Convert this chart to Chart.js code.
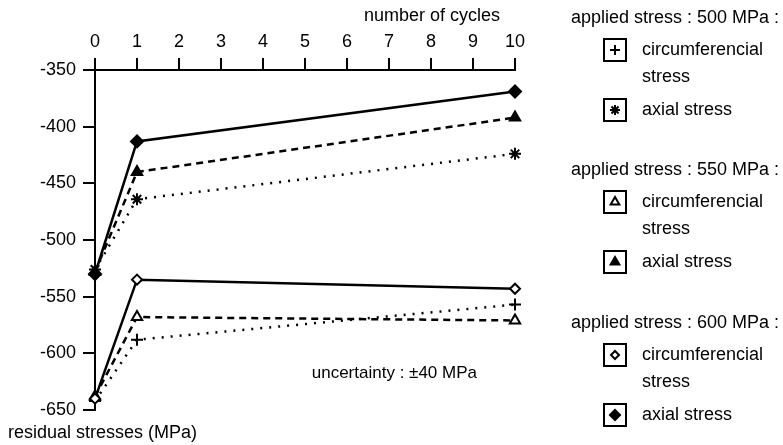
<!DOCTYPE html>
<html>
<head>
<meta charset="utf-8">
<script src="https://cdn.jsdelivr.net/npm/chart.js@4/dist/chart.umd.min.js"></script>
<style>
  body { margin: 0; background: #fff; }
  #wrap { width: 783px; height: 445px; position: relative; }
</style>
</head>
<body>
<div id="wrap"><canvas id="myChart"></canvas></div>
<script>
// number of cycles at which stresses were measured
const cycles = [0, 1, 10];

// residual stresses (MPa)
const axial600 = [-530, -413, -369];
const axial550 = [-528, -440, -392];
const axial500 = [-526, -464, -424];
const circ600 = [-640, -535, -543];
const circ550 = [-638, -568, -571];
const circ500 = [-642, -588, -557];

const xTicks = [0, 1, 2, 3, 4, 5, 6, 7, 8, 9, 10];
const yTicks = [-350, -400, -450, -500, -550, -600, -650];

const xTitle = 'number of cycles';
const yTitle = 'residual stresses (MPa)';
const note = 'uncertainty : \u00b140 MPa';
const groupTitles = ['applied stress : 500 MPa :', 'applied stress : 550 MPa :', 'applied stress : 600 MPa :'];
const circLabel = ['circumferencial', 'stress'];
const axialLabel = 'axial stress';

const FONT = "'Liberation Sans', Arial, Helvetica, sans-serif";

const toPoints = (vals) => vals.map((v, i) => ({ x: cycles[i], y: v }));

const SOLID = [];
const DASHED = [7, 5];
const DOTTED = [2, 7];

// marker style per series (legend reuses these)
const markers = {
  circ500: { pointStyle: 'cross', radius: 6, fill: '#000' },
  axial500: { pointStyle: 'star', radius: 6, fill: '#000' },
  circ550: { pointStyle: 'triangle', radius: 6, fill: '#fff' },
  axial550: { pointStyle: 'triangle', radius: 6, fill: '#000' },
  circ600: { pointStyle: 'rectRot', radius: 5, fill: '#fff' },
  axial600: { pointStyle: 'rectRot', radius: 6, fill: '#000' }
};

const makeSet = (label, vals, dash, m) => ({
  label: label,
  data: toPoints(vals),
  borderColor: '#000',
  borderWidth: 2.5,
  borderDash: dash,
  pointStyle: m.pointStyle,
  pointRadius: m.radius,
  pointBackgroundColor: m.fill,
  pointBorderColor: '#000',
  pointBorderWidth: 2,
  fill: false,
  tension: 0,
  clip: false
});

// draws the titles, the note and the legend boxes on the right
const extras = {
  id: 'extras',
  afterDraw(chart) {
    const ctx = chart.ctx;
    ctx.save();
    ctx.fillStyle = '#000';
    ctx.font = '18px ' + FONT;
    ctx.textBaseline = 'middle';

    ctx.textAlign = 'right';
    ctx.fillText(xTitle, 500, 16);
    ctx.textAlign = 'left';
    ctx.fillText(yTitle, 8, 433);

    ctx.font = '17px ' + FONT;
    ctx.textAlign = 'right';
    ctx.fillText(note, 477, 373);

    ctx.font = '18px ' + FONT;
    const legendMarks = [
      [markers.circ500, markers.axial500],
      [markers.circ550, markers.axial550],
      [markers.circ600, markers.axial600]
    ];
    const tops = [18, 170, 323];
    tops.forEach((ty, k) => {
      ctx.textAlign = 'right';
      ctx.fillText(groupTitles[k], 779, ty);
      const rows = [ty + 32, ty + 92];
      rows.forEach((cy, j) => {
        ctx.lineWidth = 2;
        ctx.strokeStyle = '#000';
        ctx.setLineDash([]);
        ctx.strokeRect(604, cy - 11, 22, 22);
        const m = legendMarks[k][j];
        ctx.fillStyle = m.fill;
        Chart.helpers.drawPoint(ctx, {
          pointStyle: m.pointStyle,
          radius: m.radius - 1,
          rotation: 0,
          borderWidth: 2
        }, 615, cy);
        ctx.fillStyle = '#000';
      });
      ctx.textAlign = 'left';
      ctx.fillText(circLabel[0], 642, rows[0]);
      ctx.fillText(circLabel[1], 642, rows[0] + 27);
      ctx.fillText(axialLabel, 642, rows[1]);
    });
    ctx.restore();
  }
};

const ctx = document.getElementById('myChart').getContext('2d');
const myChart = new Chart(ctx, {
  type: 'line',
  data: {
    datasets: [
      makeSet('600 MPa axial', axial600, SOLID, markers.axial600),
      makeSet('550 MPa axial', axial550, DASHED, markers.axial550),
      makeSet('500 MPa axial', axial500, DOTTED, markers.axial500),
      makeSet('600 MPa circumferencial', circ600, SOLID, markers.circ600),
      makeSet('550 MPa circumferencial', circ550, DASHED, markers.circ550),
      makeSet('500 MPa circumferencial', circ500, DOTTED, markers.circ500)
    ]
  },
  options: {
    responsive: true,
    maintainAspectRatio: false,
    animation: false,
    layout: { padding: { left: 0, top: 0, right: 268, bottom: 35 } },
    plugins: {
      legend: { display: false },
      tooltip: { enabled: false }
    },
    scales: {
      x: {
        type: 'linear',
        position: 'top',
        min: 0,
        max: 10,
        afterFit: (scale) => { scale.height = 70; },
        afterBuildTicks: (scale) => { scale.ticks = xTicks.map(v => ({ value: v })); },
        ticks: { color: '#000', font: { family: FONT, size: 18 }, padding: 5, maxRotation: 0 },
        grid: { drawOnChartArea: false, drawTicks: true, tickLength: 12, color: '#000', lineWidth: 2 },
        border: { display: true, color: '#000', width: 2 }
      },
      y: {
        type: 'linear',
        min: -650,
        max: -350,
        afterFit: (scale) => { scale.width = 95; },
        afterBuildTicks: (scale) => { scale.ticks = yTicks.map(v => ({ value: v })); },
        ticks: { color: '#000', font: { family: FONT, size: 18 }, padding: 7 },
        grid: { drawOnChartArea: false, drawTicks: true, tickLength: 12, color: '#000', lineWidth: 2 },
        border: { display: true, color: '#000', width: 2 }
      }
    }
  },
  plugins: [extras]
});
</script>
</body>
</html>
